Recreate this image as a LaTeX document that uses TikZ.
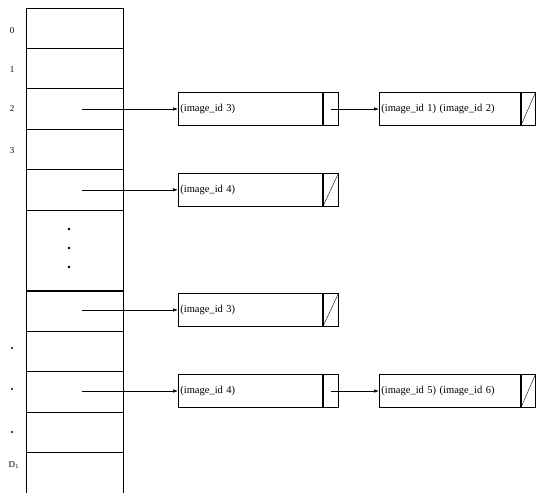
\documentclass[tikz,border=0pt]{standalone}
\usepackage{fontspec}
\setmainfont{Liberation Serif}
\usetikzlibrary{arrows.meta}
\tikzset{
  slot/.style={draw, line width=0.8pt, minimum width=97pt, minimum height=40.4pt, inner sep=0pt},
  idx/.style={font=\fontsize{9}{10}\selectfont, inner sep=0pt},
  vdot/.style={circle, fill, inner sep=0pt, minimum size=2.6pt},
  record/.style={draw, line width=0.8pt, anchor=west, text width=140pt, align=left, minimum height=33pt, inner sep=2pt, font=\fontsize{10.5}{12}\selectfont},
  ptrcell/.style={draw, line width=0.8pt, anchor=west, minimum width=15pt, minimum height=33pt, inner sep=0pt},
  link/.style={-{Latex[length=5pt,width=3.5pt]}, line width=0.6pt}
}
\begin{document}
\begin{tikzpicture}[x=1pt,y=-1pt]
  \useasboundingbox (0,0) rectangle (536,493);
  % hash table slots
  \node[slot] (s0) at (74.5,28.2) {};
  \node[slot] (s1) at (74.5,68.6) {};
  \node[slot] (s2) at (74.5,109) {};
  \node[slot] (s3) at (74.5,149.4) {};
  \node[slot] (s4) at (74.5,189.8) {};
  \node[slot, minimum height=80.8pt] (sdots) at (74.5,250.4) {};
  \node[slot] (s6) at (74.5,311.2) {};
  \node[slot] (s7) at (74.5,351.6) {};
  \node[slot] (s8) at (74.5,392) {};
  \node[slot] (s9) at (74.5,432.4) {};
  \node[slot, minimum height=42pt] (s10) at (74.5,473.6) {};
  \node[vdot] (d1) at (69,229) {};
  \node[vdot] (d2) at (69,248) {};
  \node[vdot] (d3) at (69,267) {};

  % slot indices
  \node[idx] (i0) at (12,31) {0};
  \node[idx] (i1) at (12,70) {1};
  \node[idx] (i2) at (12,109) {2};
  \node[idx] (i3) at (12,151) {3};
  \node[vdot, minimum size=2.4pt] (i7) at (12,348) {};
  \node[vdot, minimum size=2.4pt] (i8) at (12,389) {};
  \node[vdot, minimum size=2.4pt] (i9) at (12,432) {};
  \node[idx] (i10) at (14,465) {D$_1$};

  % chain of slot 2
  \coordinate (p2) at (82,109);
  \node[record] (r2a) at (178,109) {(image\_id 3)};
  \node[ptrcell] (r2ap) at (r2a.east) {};
  \node[record, text width=137pt] (r2b) at (379,109) {(image\_id 1) (image\_id 2)};
  \node[ptrcell, minimum width=14pt] (r2bp) at (r2b.east) {};
  \draw[link] (p2) -- (r2a);
  \draw[link] (r2ap.center) -- (r2b);
  \draw (r2bp.south west) -- (r2bp.north east);

  % chain of slot 4
  \coordinate (p4) at (82,189.8);
  \node[record] (r4a) at (178,189.8) {(image\_id 4)};
  \node[ptrcell] (r4ap) at (r4a.east) {};
  \draw[link] (p4) -- (r4a);
  \draw (r4ap.south west) -- (r4ap.north east);

  % chain of slot 6
  \coordinate (p6) at (82,310);
  \node[record] (r6a) at (178,310) {(image\_id 3)};
  \node[ptrcell] (r6ap) at (r6a.east) {};
  \draw[link] (p6) -- (r6a);
  \draw (r6ap.south west) -- (r6ap.north east);

  % chain of slot 8
  \coordinate (p8) at (82,391);
  \node[record] (r8a) at (178,391) {(image\_id 4)};
  \node[ptrcell] (r8ap) at (r8a.east) {};
  \node[record, text width=137pt] (r8b) at (379,391) {(image\_id 5) (image\_id 6)};
  \node[ptrcell, minimum width=14pt] (r8bp) at (r8b.east) {};
  \draw[link] (p8) -- (r8a);
  \draw[link] (r8ap.center) -- (r8b);
  \draw (r8bp.south west) -- (r8bp.north east);
\end{tikzpicture}
\end{document}
